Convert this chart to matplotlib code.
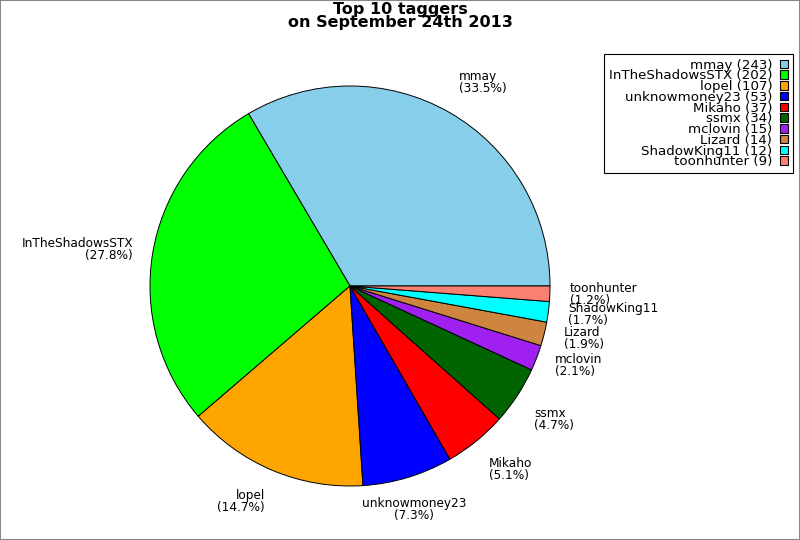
import numpy as np
import matplotlib.pyplot as plt
from matplotlib.patches import Patch, Rectangle

# data
names = ['mmay', 'InTheShadowsSTX', 'lopel', 'unknowmoney23', 'Mikaho',
         'ssmx', 'mclovin', 'Lizard', 'ShadowKing11', 'toonhunter']
counts = [243, 202, 107, 53, 37, 34, 15, 14, 12, 9]
colors = ['#87CEEB', '#00FF00', '#FFA500', '#0000FF', '#FF0000',
          '#006400', '#A020F0', '#CD853F', '#00FFFF', '#FA8072']

total = sum(counts)
pcts = [c / total * 100 for c in counts]
labels = ['%s\n(%.1f%%)' % (n, p) for n, p in zip(names, pcts)]

fig = plt.figure(figsize=(8, 5.4), dpi=100)
ax = fig.add_axes([150 / 800, 54 / 540, 400 / 800, 400 / 540])

wedges, texts = ax.pie(counts, colors=colors, labels=labels, startangle=0,
                       counterclock=True, labeldistance=1.1,
                       wedgeprops=dict(edgecolor='black', linewidth=0.7),
                       textprops=dict(fontsize=8.7, linespacing=0.9))
ax.set_xlim(-1, 1)
ax.set_ylim(-1, 1)
ax.set_aspect('equal')

# placement of labels depending on direction
for w, t in zip(wedges, texts):
    ang = np.deg2rad((w.theta1 + w.theta2) / 2)
    c, s = np.cos(ang), np.sin(ang)
    if c > 0.35:
        t.set_ha('left')
    elif c < -0.35:
        t.set_ha('right')
    else:
        t.set_ha('center')
    if s > 0.5:
        t.set_va('bottom')
    elif s < -0.5:
        t.set_va('top')
    else:
        t.set_va('center')

fig.suptitle('Top 10 taggers\non September 24th 2013', fontsize=11.5,
             fontweight='bold', y=0.997, va='top', linespacing=0.9)

handles = [Patch(facecolor=col, edgecolor='black', linewidth=0.8) for col in colors]
leg_labels = ['%s (%d)' % (n, c) for n, c in zip(names, counts)]
leg = fig.legend(handles, leg_labels, loc='upper right',
                 bbox_to_anchor=(793 / 800, 1 - 54 / 540), markerfirst=False,
                 fontsize=9.6, handlelength=0.6, handleheight=0.6,
                 handletextpad=0.6, labelspacing=-0.17, borderpad=0.35,
                 fancybox=False, framealpha=1, edgecolor='black', borderaxespad=0)
for txt in leg.get_texts():
    txt.set_ha('right')
leg._legend_box.align = 'right'
leg.get_frame().set_linewidth(0.8)

fig.patches.append(Rectangle((0, 0), 1, 1, transform=fig.transFigure,
                             fill=False, edgecolor='#888888', linewidth=1.5))

fig.savefig('out.png', dpi=100)
